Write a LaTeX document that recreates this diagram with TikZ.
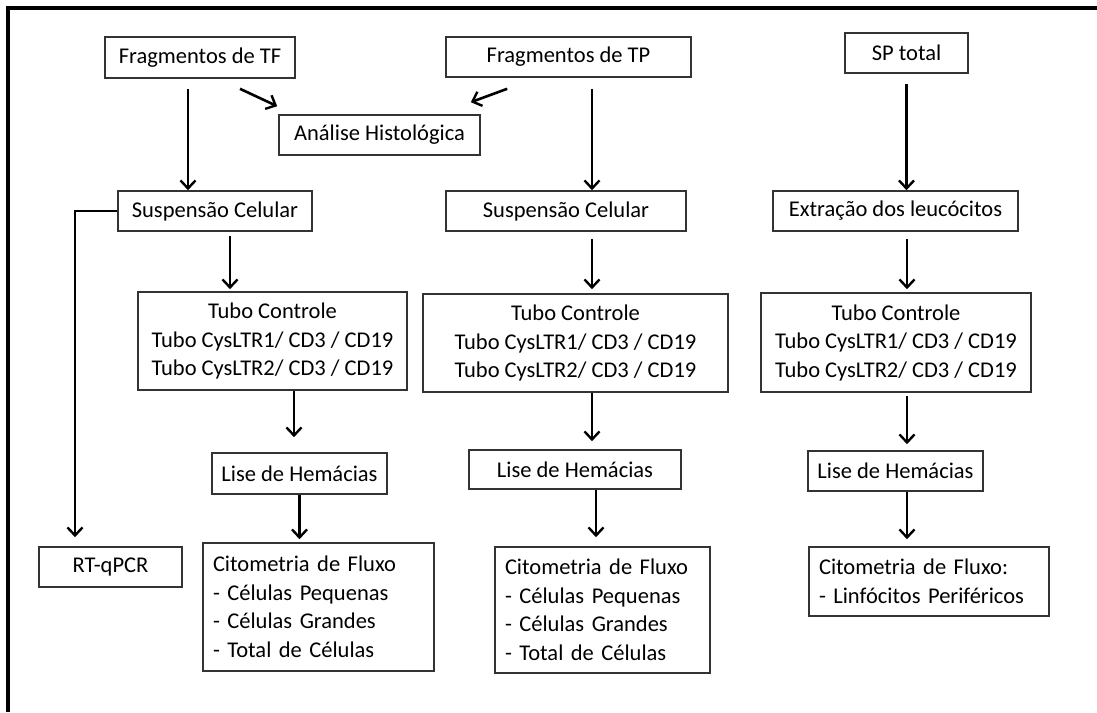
\documentclass[tikz,border=0pt]{standalone}
\usepackage{fontspec}
\setmainfont{Carlito}
\usepackage{tikz}
\usetikzlibrary{
	arrows.meta,
	calc
}

\begin{document}
\begin{tikzpicture}[x=1pt, y=-1pt,
		font=\fontsize{22.5}{28.5}\selectfont,
		box/.style={draw=black!80, line width=1.6pt, inner sep=0pt, align=center},
		listbox/.style={draw=black!80, line width=1.6pt, inner sep=10pt, align=left},
		arr/.style={line width=2.6pt, -{Straight Barb[length=8pt,width=15pt,line width=2.4pt]}}]
		\useasboundingbox (0,0) rectangle (1097,712);
		\draw[line width=3.5pt] (8,712) -- (8,8) -- (1097,8);

		% top row
		\node[box, minimum width=190, minimum height=41] (tf) at (200,57.5) {Fragmentos de TF};
		\node[box, minimum width=245, minimum height=40] (tp) at (568.5,57) {Fragmentos de TP};
		\node[box, minimum width=123, minimum height=40] (sp) at (906.5,53) {SP total};
		\node[box, minimum width=201, minimum height=40] (hist) at (379.5,135) {Análise Histológica};

		% cell suspensions
		\node[box, minimum width=194, minimum height=40] (suspL) at (215,211) {Suspensão Celular};
		\node[box, minimum width=240, minimum height=40] (suspM) at (566,211) {Suspensão Celular};
		\node[box, minimum width=245, minimum height=40] (extr) at (895.5,211) {Extração dos leucócitos};

		% tubes
		\node[box, minimum width=269, minimum height=98] (tuboL) at (272.5,341)
			{Tubo Controle\\Tubo CysLTR1/ CD3 / CD19\\Tubo CysLTR2/ CD3 / CD19};
		\node[box, minimum width=305, minimum height=98] (tuboM) at (575.5,343)
			{Tubo Controle\\Tubo CysLTR1/ CD3 / CD19\\Tubo CysLTR2/ CD3 / CD19};
		\node[box, minimum width=270, minimum height=99] (tuboR) at (896,342.5)
			{Tubo Controle\\Tubo CysLTR1/ CD3 / CD19\\Tubo CysLTR2/ CD3 / CD19};

		% lysis
		\node[box, minimum width=175, minimum height=41] (liseL) at (299.5,473.5) {Lise de Hemácias};
		\node[box, minimum width=212, minimum height=39] (liseM) at (575,469.5) {Lise de Hemácias};
		\node[box, minimum width=175, minimum height=40] (liseR) at (895.5,471) {Lise de Hemácias};

		% results
		\node[box, minimum width=143, minimum height=40] (rt) at (110.5,567) {RT-qPCR};
		\node[listbox, text width=211, minimum height=128] (citL) at (318.5,607)
			{Citometria de Fluxo\\- Células Pequenas\\- Células Grandes\\- Total de Células};
		\node[listbox, text width=195, minimum height=126] (citM) at (602.5,610)
			{Citometria de Fluxo\\- Células Pequenas\\- Células Grandes\\- Total de Células};
		\node[listbox, text width=220, minimum height=69] (citR) at (929,581.5)
			{Citometria de Fluxo:\\- Linfócitos Periféricos};

		% left branch
		\draw[arr, shorten <=10pt] ([xshift=-12pt]tf.south) -- ([xshift=-12pt]tf.south |- suspL.north);
		\draw[arr] ([xshift=40pt,yshift=-10pt]tf.south) -- ([xshift=-1pt,yshift=8pt]hist.north west);
		\draw[arr] ([xshift=62pt,yshift=-11pt]tp.south west) -- ([xshift=-10pt,yshift=12pt]hist.north east);
		\draw[arr, shorten >=9pt] (suspL.west) -| ([xshift=-35.5pt]rt.north);
		\draw[arr, shorten <=4pt, shorten >=2pt] ([xshift=15pt]suspL.south) -- ([xshift=15pt]suspL.south |- tuboL.north);
		\draw[arr, shorten >=15pt] ([xshift=21.5pt]tuboL.south) -- ([xshift=21.5pt]tuboL.south |- liseL.north);
		\draw[arr, shorten >=3pt] (liseL.south) -- (liseL.south |- citL.north);

		% middle branch
		\draw[arr, shorten <=11pt] ([xshift=23.5pt]tp.south) -- ([xshift=23.5pt]tp.south |- suspM.north);
		\draw[arr, shorten <=7pt, shorten >=4pt] ([xshift=26pt]suspM.south) -- ([xshift=26pt]suspM.south |- tuboM.north);
		\draw[arr, shorten >=8pt] ([xshift=16.5pt]tuboM.south) -- ([xshift=16.5pt]tuboM.south |- liseM.north);
		\draw[arr, shorten >=9pt] ([xshift=21pt]liseM.south) -- ([xshift=21pt]liseM.south |- citM.north);

		% right branch
		\draw[arr, shorten <=10pt] (sp.south) -- (sp.south |- extr.north);
		\draw[arr, shorten <=7pt, shorten >=3pt] ([xshift=11.5pt]extr.south) -- ([xshift=11.5pt]extr.south |- tuboR.north);
		\draw[arr, shorten <=3pt, shorten >=6pt] ([xshift=11pt]tuboR.south) -- ([xshift=11pt]tuboR.south |- liseR.north);
		\draw[arr, shorten >=7pt] ([xshift=11.5pt]liseR.south) -- ([xshift=11.5pt]liseR.south |- citR.north);
	\end{tikzpicture}
\end{document}
